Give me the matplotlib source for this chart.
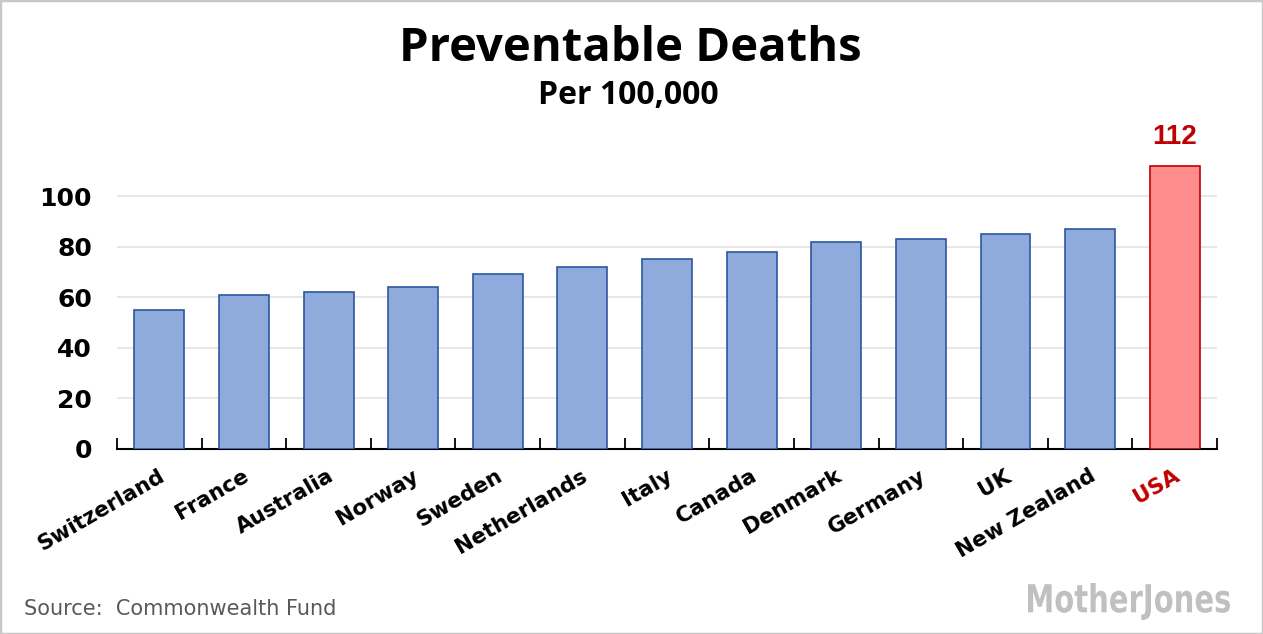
import matplotlib
matplotlib.use("Agg")
import matplotlib.pyplot as plt
from matplotlib.textpath import TextPath
from matplotlib.patches import PathPatch, Rectangle
from matplotlib.font_manager import FontProperties
from matplotlib.transforms import Affine2D
import numpy as np

countries = ["Switzerland", "France", "Australia", "Norway", "Sweden", "Netherlands",
             "Italy", "Canada", "Denmark", "Germany", "UK", "New Zealand", "USA"]
deaths = [55, 61, 62, 64, 69, 72, 75, 78, 82, 83, 85, 87, 112]
highlight = "USA"
yticks = [0, 20, 40, 60, 80, 100]

W, H = 1263, 634
fig = plt.figure(figsize=(W / 100, H / 100), dpi=100)
fig.patch.set_facecolor("white")

# border
fig.add_artist(Rectangle((0, 0), 1, 1, transform=fig.transFigure, fill=False,
                         edgecolor="#c8c8c8", linewidth=2.5))

ax = fig.add_axes([117 / W, 1 - 449 / H, 1100 / W, (449 - 145.4) / H])
x = np.arange(len(countries))
face = ["#ff8c8c" if c == highlight else "#8eabdc" for c in countries]
edge = ["#c00000" if c == highlight else "#2f55a0" for c in countries]
ax.bar(x, deaths, width=0.59, color=face, edgecolor=edge, linewidth=1.2, zorder=3)

ax.set_xlim(-0.5, len(countries) - 0.5)
ax.set_ylim(0, 120)
ax.set_yticks(yticks)
ax.set_yticklabels([str(v) for v in yticks], fontfamily="DejaVu Sans", fontweight="bold",
                   fontsize=18)
ax.tick_params(axis="y", length=0, pad=18)
ax.yaxis.grid(True, color="#e3e3e3", linewidth=1.2, zorder=0)
ax.set_axisbelow(True)
for s in ["top", "right", "left"]:
    ax.spines[s].set_visible(False)
ax.spines["bottom"].set_linewidth(1.5)

# boundary ticks
ax.set_xticks(np.arange(-0.5, len(countries), 1.0))
ax.set_xticklabels([])
ax.tick_params(axis="x", direction="in", length=8, width=1.3)

for i, c in enumerate(countries):
    col = "#c00000" if c == highlight else "black"
    ax.annotate(c, xy=(i, 0), xycoords="data", xytext=(-1, -12), textcoords="offset points",
                rotation=30, rotation_mode="anchor", ha="right", va="top",
                fontfamily="DejaVu Sans", fontweight="bold", fontsize=15.5, color=col)

# value label for highlighted bar
hi = countries.index(highlight)
ax.annotate(str(deaths[hi]), xy=(hi, deaths[hi]), xytext=(0, 11), textcoords="offset points",
            ha="center", va="bottom", fontfamily="Liberation Sans", fontweight="bold",
            fontsize=20, color="#c00000")

fig.text(630 / W, 1 - 61 / H, "Preventable Deaths", ha="center", va="baseline",
         fontfamily="Open Sans", fontweight="bold", fontsize=34)
fig.text(628 / W, 1 - 104 / H, "Per 100,000", ha="center", va="baseline",
         fontfamily="Open Sans", fontweight="bold", fontsize=23)

fig.text(24 / W, 1 - 609 / H, "Source:  Commonwealth Fund", ha="left", va="center",
         fontfamily="DejaVu Sans", fontsize=15, color="#595959")

# Mother Jones logo (condensed text path)
fp = FontProperties(family="DejaVu Sans", weight="bold")
tp = TextPath((0, 0), "MotherJones", size=100, prop=fp)
bb = tp.get_extents()
tw, th = 202, 37
sx = tw / bb.width
sy = th / bb.height
tr = Affine2D().translate(-bb.x0, -bb.y0).scale(sx, sy).translate(1028, H - 620)
patch = PathPatch(tr.transform_path(tp), facecolor="#c0c0c0", edgecolor="none",
                  transform=None)
fig.add_artist(patch)

fig.savefig("out.png", dpi=100, facecolor="white")
